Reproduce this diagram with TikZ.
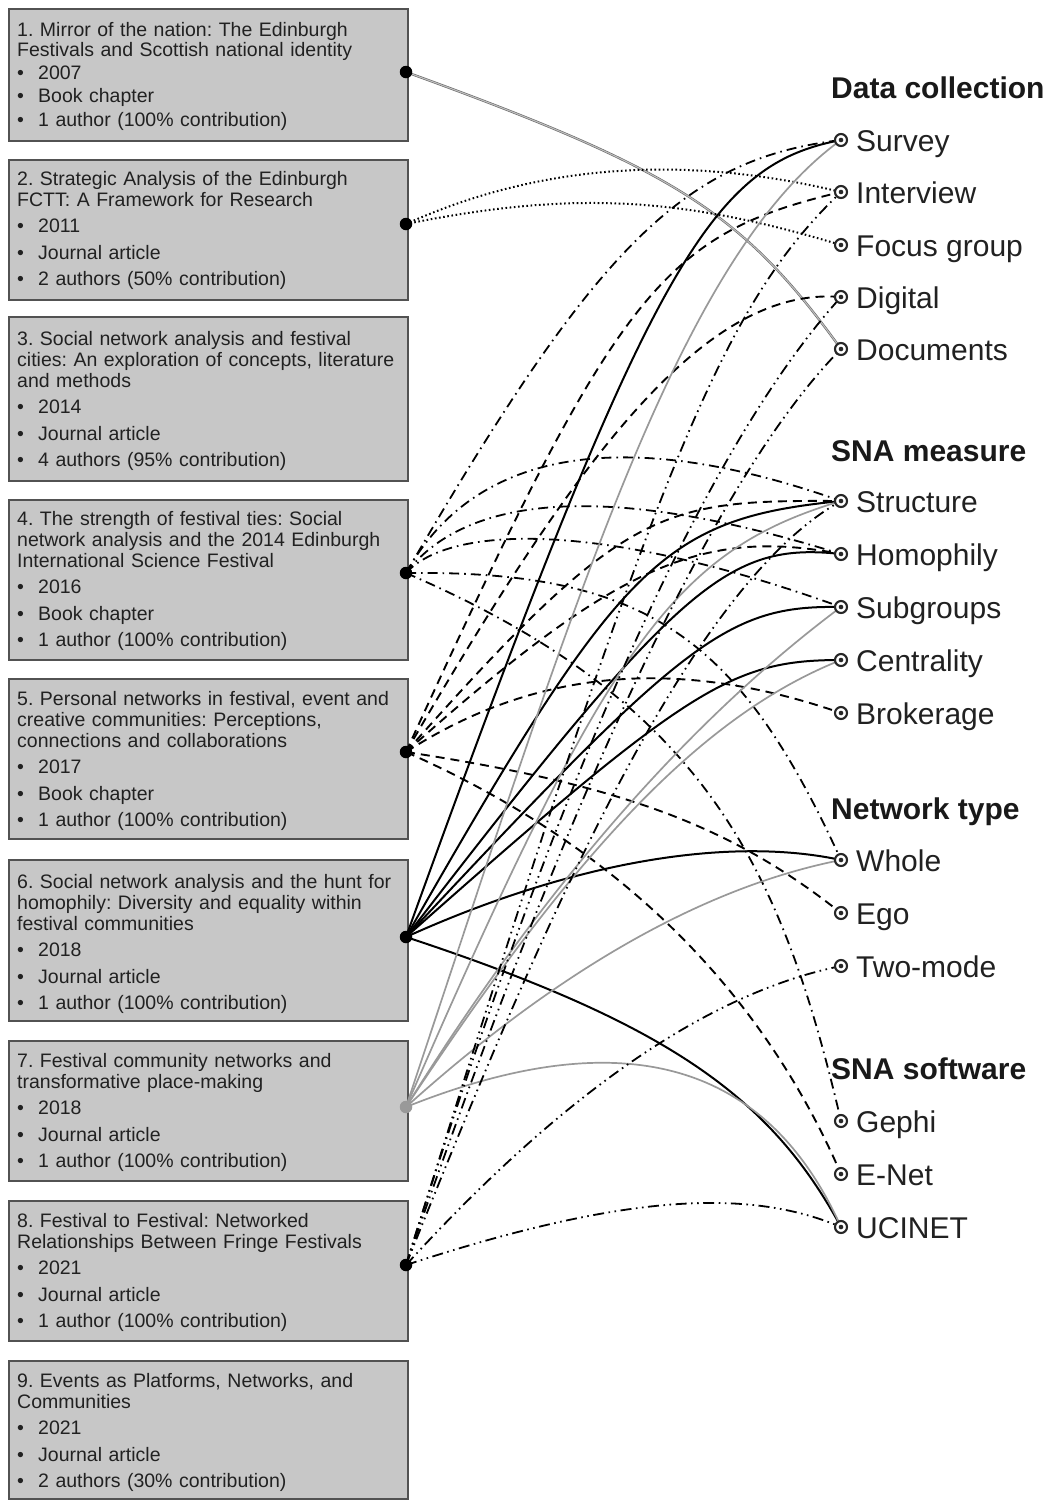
\documentclass[tikz,border=0pt]{standalone}
\usepackage{fontspec}
\setmainfont{Liberation Sans}
\usetikzlibrary{calc}
\pgfdeclarelayer{boxes}
\pgfdeclarelayer{edges}
\pgfsetlayers{boxes,edges,main}
\frenchspacing
\newcommand{\bul}{\makebox[21pt][l]{•}}
\newcommand{\lnk}[5]{\draw[#1] (#2.center) .. controls (#4) and (#5) .. (#3.center);}
\tikzset{
  box/.style={draw=black!68, line width=1.6pt, fill=black!22, minimum width=399pt, anchor=north west, inner sep=0pt},
  btxt/.style={anchor=base west, inner sep=0pt, text width=392pt, align=left, font=\fontsize{19.5}{21}\selectfont, text=black!87},
  pdot/.style={circle, fill=black, inner sep=0pt, minimum size=12.5pt},
  mk/.style={circle, draw=black!85, line width=2.1pt, fill=white, inner sep=0pt, minimum size=12pt,
    path picture={\fill[black!85] (path picture bounding box.center) circle (2.3pt);}},
  lbl/.style={anchor=base west, inner sep=0pt, font=\fontsize{30}{32}\selectfont, text=black!87},
  hdr/.style={anchor=base west, inner sep=0pt, font=\fontsize{30}{32}\selectfont\bfseries, text=black!90},
  pA/.style={draw=black!60, line width=0.6pt, double=black!25, double distance=1.1pt},
  pB/.style={black, line width=2pt, dash pattern=on 1.6pt off 2.6pt},
  pD/.style={black, line width=1.8pt, dash pattern=on 10pt off 5pt on 1.6pt off 5pt},
  pE/.style={black, line width=1.9pt, dash pattern=on 9pt off 6pt},
  pF/.style={black, line width=2pt},
  pG/.style={black!40, line width=1.7pt},
  pH/.style={black, line width=1.8pt, dash pattern=on 11pt off 4.5pt on 1.6pt off 4.5pt on 1.6pt off 4.5pt},
}
\begin{document}
\begin{tikzpicture}[x=1pt,y=-1pt]
\begin{pgfonlayer}{boxes}
\fill[white] (0,0) rectangle (1049,1500);
\useasboundingbox (0,0) rectangle (1049,1500);
% boxes
\node[box, minimum height=132pt] (b1) at (8,8) {};
\node[box, minimum height=140pt] (b2) at (8,159) {};
\node[box, minimum height=164pt] (b3) at (8,316) {};
\node[box, minimum height=160pt] (b4) at (8,499) {};
\node[box, minimum height=160pt] (b5) at (8,678) {};
\node[box, minimum height=161pt] (b6) at (8,859) {};
\node[box, minimum height=140pt] (b7) at (8,1040) {};
\node[box, minimum height=140pt] (b8) at (8,1200) {};
\node[box, minimum height=138pt] (b9) at (8,1360) {};
\node[btxt, font=\fontsize{19.5}{20}\selectfont] (t1) at (17,36) {1. Mirror of the nation: The Edinburgh\\Festivals and Scottish national identity\\[3pt]\bul 2007\\[3.5pt]\bul Book chapter\\[3.5pt]\bul 1 author (100\% contribution)};
\node[btxt] (t2) at (17,185) {2. Strategic Analysis of the Edinburgh\\FCTT: A Framework for Research\\[5.5pt]\bul 2011\\[5.5pt]\bul Journal article\\[5.5pt]\bul 2 authors (50\% contribution)};
\node[btxt] (t3) at (17,345) {3. Social network analysis and festival\\cities: An exploration of concepts, literature\\and methods\\[5.5pt]\bul 2014\\[5.5pt]\bul Journal article\\[5.5pt]\bul 4 authors (95\% contribution)};
\node[btxt] (t4) at (17,525) {4. The strength of festival ties: Social\\network analysis and the 2014 Edinburgh\\International Science Festival\\[5.5pt]\bul 2016\\[5.5pt]\bul Book chapter\\[5.5pt]\bul 1 author (100\% contribution)};
\node[btxt] (t5) at (17,705) {5. Personal networks in festival, event and\\creative communities: Perceptions,\\connections and collaborations\\[5.5pt]\bul 2017\\[5.5pt]\bul Book chapter\\[5.5pt]\bul 1 author (100\% contribution)};
\node[btxt] (t6) at (17,888) {6. Social network analysis and the hunt for\\homophily: Diversity and equality within\\festival communities\\[5.5pt]\bul 2018\\[5.5pt]\bul Journal article\\[5.5pt]\bul 1 author (100\% contribution)};
\node[btxt] (t7) at (17,1067) {7. Festival community networks and\\transformative place-making\\[5.5pt]\bul 2018\\[5.5pt]\bul Journal article\\[5.5pt]\bul 1 author (100\% contribution)};
\node[btxt] (t8) at (17,1227) {8. Festival to Festival: Networked\\Relationships Between Fringe Festivals\\[5.5pt]\bul 2021\\[5.5pt]\bul Journal article\\[5.5pt]\bul 1 author (100\% contribution)};
\node[btxt] (t9) at (17,1387) {9. Events as Platforms, Networks, and\\Communities\\[5.5pt]\bul 2021\\[5.5pt]\bul Journal article\\[5.5pt]\bul 2 authors (30\% contribution)};
\end{pgfonlayer}

% source dots
\node[pdot] (d1) at (406,72) {};
\node[pdot] (d2) at (406,224) {};
\node[pdot] (d4) at (406,573) {};
\node[pdot] (d5) at (406,752) {};
\node[pdot] (d6) at (406,937) {};
\node[pdot, fill=black!40] (d7) at (406,1107) {};
\node[pdot] (d8) at (406,1265) {};

% headers
\node[hdr] (h1) at (831,98) {Data collection};
\node[hdr] (h2) at (831,461) {SNA measure};
\node[hdr] (h3) at (831,819) {Network type};
\node[hdr] (h4) at (831,1079) {SNA software};

% target markers and labels
\foreach \n/\y/\t in {survey/140/Survey, interview/192/Interview, focus/245/Focus group, digital/297/Digital, documents/349/Documents,
  structure/501/Structure, homophily/554/Homophily, subgroups/607/Subgroups, centrality/660/Centrality, brokerage/713/Brokerage,
  whole/860/Whole, ego/913/Ego, twomode/966/Two-mode, gephi/1121/Gephi, enet/1174/E-Net, ucinet/1227/UCINET}{
  \node[mk] (\n) at (841,\y) {};
  \node[lbl] (\n L) at (856,\y+11.5) {\t};
}

\begin{pgfonlayer}{edges}
% paper 1
\lnk{pA}{d1}{documents}{676,170}{742,212}
% paper 2
\lnk{pB}{d2}{interview}{539,164}{684,154}
\lnk{pB}{d2}{focus}{570,191}{679,196}
% paper 4
\lnk{pD}{d4}{survey}{596,246}{683,159}
\lnk{pD}{d4}{structure}{480,440}{640,430}
\lnk{pD}{d4}{homophily}{470,490}{620,485}
\lnk{pD}{d4}{subgroups}{450,525}{600,520}
\lnk{pD}{d4}{whole}{650,570}{740,640}
\lnk{pD}{d4}{gephi}{700,700}{780,860}
% paper 5
\lnk{pE}{d5}{interview}{617,291}{660,235}
\lnk{pE}{d5}{digital}{570,470}{700,285}
\lnk{pE}{d5}{structure}{625,505}{660,500}
\lnk{pE}{d5}{homophily}{614,566}{701,527}
\lnk{pE}{d5}{brokerage}{541,665}{685,659}
\lnk{pE}{d5}{ego}{623,785}{731,826}
\lnk{pE}{d5}{enet}{614,844}{759,985}
% paper 6
\lnk{pF}{d6}{survey}{650,260}{710,165}
\lnk{pF}{d6}{structure}{620,562}{661,519}
\lnk{pF}{d6}{homophily}{680,581}{728,542}
\lnk{pF}{d6}{subgroups}{685,638}{728,605}
\lnk{pF}{d6}{centrality}{689,686}{732,660}
\lnk{pF}{d6}{whole}{574,861}{730,836}
\lnk{pF}{d6}{ucinet}{670,1024}{771,1098}
% paper 7
\lnk{pG}{d7}{survey}{571,613}{676,259}
\lnk{pG}{d7}{structure}{608,642}{674,551}
\lnk{pG}{d7}{subgroups}{542,889}{687,722}
\lnk{pG}{d7}{centrality}{573,854}{700,716}
\lnk{pG}{d7}{whole}{558,970}{704,887}
\lnk{pG}{d7}{ucinet}{621,1021}{766,1060}
% paper 8
\lnk{pH}{d8}{interview}{655,468}{720,308}
\lnk{pH}{d8}{digital}{561,768}{707,445}
\lnk{pH}{d8}{documents}{575,776}{720,471}
\lnk{pH}{d8}{structure}{542,925}{687,587}
\lnk{pH}{d8}{twomode}{563,1093}{708,993}
\lnk{pH}{d8}{ucinet}{620,1195}{747,1187}
\end{pgfonlayer}
\end{tikzpicture}
\end{document}
